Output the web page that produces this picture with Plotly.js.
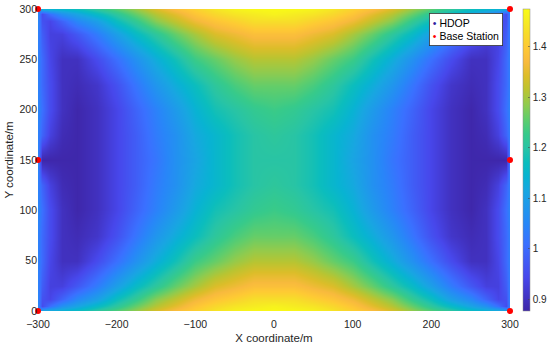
<!DOCTYPE html>
<html>
<head>
<meta charset="utf-8">
<script src="https://cdn.plot.ly/plotly-3.0.1.min.js"></script>
<style>
  html, body { margin: 0; padding: 0; background: #fff; }
  #hdop-map { width: 550px; height: 349px; }
</style>
</head>
<body>
<div id="hdop-map"></div>
<script>
// ========== Data ==========

// grid columns (m) - denser near the left/right edges where the field bends fast
const gridX = [-300, -295, -285, -270, -250, -225, -200, -175, -150, -125, -100, -75, -50, -25, 0,
  25, 50, 75, 100, 125, 150, 175, 200, 225, 250, 270, 285, 295, 300];

// grid rows (m)
const gridY = [0, 5, 12, 25, 50, 75, 100, 125, 150, 175, 200, 225, 250, 275, 288, 295, 300];

// HDOP values, one row per gridY entry (bottom to top)
const hdop = [
  [1.05,1.13,1.14,1.15,1.17,1.21,1.25,1.29,1.34,1.38,1.41,1.44,1.46,1.47,1.47,1.47,1.46,1.44,1.41,1.38,1.34,1.29,1.25,1.21,1.17,1.15,1.14,1.13,1.05],
  [1.05,0.95,1.01,1.07,1.11,1.16,1.21,1.26,1.31,1.35,1.39,1.42,1.44,1.45,1.46,1.45,1.44,1.42,1.39,1.35,1.31,1.26,1.21,1.16,1.11,1.07,1.01,0.95,1.05],
  [1.05,0.96,0.94,0.99,1.05,1.10,1.17,1.22,1.28,1.32,1.36,1.39,1.41,1.43,1.43,1.43,1.41,1.39,1.36,1.32,1.28,1.22,1.17,1.10,1.05,0.99,0.94,0.96,1.05],
  [1.04,0.98,0.93,0.93,0.97,1.03,1.10,1.16,1.21,1.26,1.30,1.34,1.36,1.38,1.38,1.38,1.36,1.34,1.30,1.26,1.21,1.16,1.10,1.03,0.97,0.93,0.93,0.98,1.04],
  [1.04,1.00,0.94,0.90,0.90,0.95,1.01,1.07,1.13,1.18,1.23,1.26,1.29,1.31,1.31,1.31,1.29,1.26,1.23,1.18,1.13,1.07,1.01,0.95,0.90,0.90,0.94,1.00,1.04],
  [1.04,1.00,0.95,0.90,0.89,0.91,0.96,1.02,1.08,1.13,1.17,1.21,1.24,1.26,1.26,1.26,1.24,1.21,1.17,1.13,1.08,1.02,0.96,0.91,0.89,0.90,0.95,1.00,1.04],
  [1.05,1.01,0.95,0.90,0.88,0.90,0.94,0.99,1.04,1.09,1.14,1.18,1.20,1.22,1.23,1.22,1.20,1.18,1.14,1.09,1.04,0.99,0.94,0.90,0.88,0.90,0.95,1.01,1.05],
  [1.04,0.99,0.93,0.89,0.88,0.90,0.94,0.98,1.03,1.07,1.12,1.15,1.18,1.20,1.21,1.20,1.18,1.15,1.12,1.07,1.03,0.98,0.94,0.90,0.88,0.89,0.93,0.99,1.04],
  [1.05,0.88,0.88,0.88,0.88,0.90,0.94,0.98,1.02,1.07,1.11,1.15,1.18,1.20,1.20,1.20,1.18,1.15,1.11,1.07,1.02,0.98,0.94,0.90,0.88,0.88,0.88,0.88,1.05],
  [1.04,0.99,0.93,0.89,0.88,0.90,0.94,0.98,1.03,1.07,1.12,1.15,1.18,1.20,1.21,1.20,1.18,1.15,1.12,1.07,1.03,0.98,0.94,0.90,0.88,0.89,0.93,0.99,1.04],
  [1.05,1.01,0.95,0.90,0.88,0.90,0.94,0.99,1.04,1.09,1.14,1.18,1.20,1.22,1.23,1.22,1.20,1.18,1.14,1.09,1.04,0.99,0.94,0.90,0.88,0.90,0.95,1.01,1.05],
  [1.04,1.00,0.95,0.90,0.89,0.91,0.96,1.02,1.08,1.13,1.17,1.21,1.24,1.26,1.26,1.26,1.24,1.21,1.17,1.13,1.08,1.02,0.96,0.91,0.89,0.90,0.95,1.00,1.04],
  [1.04,1.00,0.94,0.90,0.90,0.95,1.01,1.07,1.13,1.18,1.23,1.26,1.29,1.31,1.31,1.31,1.29,1.26,1.23,1.18,1.13,1.07,1.01,0.95,0.90,0.90,0.94,1.00,1.04],
  [1.04,0.98,0.93,0.93,0.97,1.03,1.10,1.16,1.21,1.26,1.30,1.34,1.36,1.38,1.38,1.38,1.36,1.34,1.30,1.26,1.21,1.16,1.10,1.03,0.97,0.93,0.93,0.98,1.04],
  [1.05,0.96,0.94,0.99,1.05,1.10,1.17,1.22,1.28,1.32,1.36,1.39,1.41,1.43,1.43,1.43,1.41,1.39,1.36,1.32,1.28,1.22,1.17,1.10,1.05,0.99,0.94,0.96,1.05],
  [1.05,0.95,1.01,1.07,1.11,1.16,1.21,1.26,1.31,1.35,1.39,1.42,1.44,1.45,1.46,1.45,1.44,1.42,1.39,1.35,1.31,1.26,1.21,1.16,1.11,1.07,1.01,0.95,1.05],
  [1.05,1.13,1.14,1.15,1.17,1.21,1.25,1.29,1.34,1.38,1.41,1.44,1.46,1.47,1.47,1.47,1.46,1.44,1.41,1.38,1.34,1.29,1.25,1.21,1.17,1.15,1.14,1.13,1.05]
];

// base station positions (m)
const stationX = [-300, -300, -300, 300, 300, 300];
const stationY = [0, 150, 300, 0, 150, 300];

// axis / colorbar ticks
const xTicks = [-300, -200, -100, 0, 100, 200, 300];
const yTicks = [0, 50, 100, 150, 200, 250, 300];
const cbTicks = [0.9, 1.0, 1.1, 1.2, 1.3, 1.4];
const cbTickText = ['0.9', '1', '1.1', '1.2', '1.3', '1.4'];
const hdopMin = 0.877;
const hdopMax = 1.474;

// ========== Colormap (MATLAB parula, sampled) ==========
const parula = [
  [0.000, 'rgb(62,38,168)'],
  [0.111, 'rgb(71,71,235)'],
  [0.222, 'rgb(58,112,255)'],
  [0.286, 'rgb(40,134,248)'],
  [0.333, 'rgb(33,148,238)'],
  [0.397, 'rgb(24,166,225)'],
  [0.444, 'rgb(8,179,210)'],
  [0.492, 'rgb(11,189,189)'],
  [0.540, 'rgb(40,196,165)'],
  [0.587, 'rgb(55,202,138)'],
  [0.635, 'rgb(95,205,108)'],
  [0.683, 'rgb(143,203,78)'],
  [0.730, 'rgb(185,196,49)'],
  [0.778, 'rgb(220,189,41)'],
  [0.825, 'rgb(248,186,61)'],
  [0.873, 'rgb(254,201,52)'],
  [0.921, 'rgb(247,220,42)'],
  [0.968, 'rgb(246,239,32)'],
  [1.000, 'rgb(249,251,21)']
];

const FONT = 'Liberation Sans, Arial, Helvetica, sans-serif';
const TEXT_COLOR = '#262626';

// ========== Traces ==========
const heatTrace = {
  type: 'heatmap',
  x: gridX,
  y: gridY,
  z: hdop,
  zsmooth: 'best',
  zmin: hdopMin,
  zmax: hdopMax,
  colorscale: parula,
  hoverinfo: 'skip',
  showscale: true,
  colorbar: {
    x: 1.0265,
    xanchor: 'left',
    xpad: 0,
    y: 0.5,
    yanchor: 'middle',
    ypad: 0,
    len: 1,
    thickness: 7,
    outlinewidth: 0.5,
    outlinecolor: '#8c8c8c',
    tickvals: cbTicks,
    ticktext: cbTickText,
    ticks: 'inside',
    ticklen: 2,
    tickwidth: 0.6,
    tickcolor: '#444',
    tickfont: { family: FONT, size: 10, color: TEXT_COLOR }
  }
};

const stationTrace = {
  type: 'scatter',
  mode: 'markers',
  x: stationX,
  y: stationY,
  name: 'Base Station',
  cliponaxis: false,
  hoverinfo: 'skip',
  marker: { color: 'rgb(255,0,0)', size: 6 }
};

// ========== Layout ==========
const layout = {
  width: 550,
  height: 349,
  margin: { l: 38, r: 40, t: 9, b: 38, autoexpand: false },
  paper_bgcolor: '#fff',
  plot_bgcolor: '#fff',
  showlegend: false,
  font: { family: FONT, size: 10, color: TEXT_COLOR },
  xaxis: {
    range: [-300, 300],
    tickvals: xTicks,
    showgrid: false,
    zeroline: false,
    showline: false,
    ticks: 'outside',
    ticklen: 3,
    tickcolor: 'rgba(0,0,0,0)',
    tickfont: { family: FONT, size: 10.5, color: TEXT_COLOR },
    title: { text: 'X coordinate/m', font: { family: FONT, size: 11.5, color: TEXT_COLOR }, standoff: 5 }
  },
  yaxis: {
    range: [0, 300],
    tickvals: yTicks,
    showgrid: false,
    zeroline: false,
    showline: false,
    ticks: '',
    tickfont: { family: FONT, size: 10.5, color: TEXT_COLOR },
    title: { text: 'Y coordinate/m', font: { family: FONT, size: 11.5, color: TEXT_COLOR }, standoff: 3 }
  },
  // MATLAB-style compact legend box
  annotations: [{
    xref: 'paper',
    yref: 'paper',
    x: 0.985,
    y: 0.986,
    xanchor: 'right',
    yanchor: 'top',
    align: 'left',
    showarrow: false,
    bgcolor: '#fff',
    bordercolor: '#333',
    borderwidth: 0.8,
    borderpad: 3,
    font: { family: FONT, size: 10.5, color: '#000' },
    text: '<span style="color:rgb(45,35,160)">•</span> HDOP<br>' +
          '<span style="color:rgb(255,0,0)">•</span> Base Station'
  }]
};

Plotly.newPlot('hdop-map', [heatTrace, stationTrace], layout, { displayModeBar: false, staticPlot: true });
</script>
</body>
</html>
